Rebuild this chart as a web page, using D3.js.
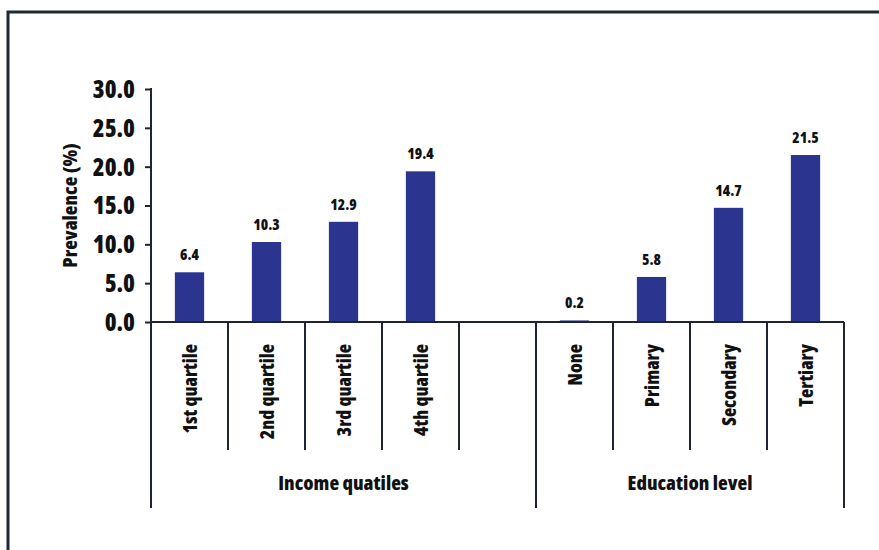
<!DOCTYPE html>
<html>
<head>
<meta charset="utf-8">
<script src="https://cdn.jsdelivr.net/npm/d3@7"></script>
<style>
  html, body { margin: 0; padding: 0; background: #ffffff; }
  svg { display: block; }
  text { font-family: "Open Sans", "Liberation Sans Narrow", sans-serif; font-stretch: 75%; font-weight: 800; fill: #111; }
</style>
</head>
<body>
<svg id="chart" width="879" height="550"></svg>
<script>
// Prevalence by income quartile and by education level
const incomeCategories = ["1st quartile", "2nd quartile", "3rd quartile", "4th quartile"];
const incomeValues = [6.4, 10.3, 12.9, 19.4];
const educationCategories = ["None", "Primary", "Secondary", "Tertiary"];
const educationValues = [0.2, 5.8, 14.7, 21.5];
const groupLabels = ["Income quatiles", "Education level"];
const yTicks = [0, 5, 10, 15, 20, 25, 30];
const yTitle = "Prevalence (%)";

const svg = d3.select("#chart");
const W = 879, H = 550;
const plotLeft = 151, plotRight = 844, plotTop = 89, plotBase = 322;
const sepShort = 450, sepLong = 508;
const barColor = "#2b3590";
const lineColor = "#1e2433";

// outer frame
svg.append("rect")
  .attr("x", 8).attr("y", 12)
  .attr("width", W + 20).attr("height", H + 20)
  .attr("fill", "none").attr("stroke", "#1d2a36").attr("stroke-width", 3);

// slot layout: income group gets one empty trailing slot
const slots = [];
incomeCategories.forEach((c, i) => slots.push({ key: "inc" + i, label: c, value: incomeValues[i], group: 0 }));
slots.push({ key: "gap", label: "", value: null, group: 0 });
educationCategories.forEach((c, i) => slots.push({ key: "edu" + i, label: c, value: educationValues[i], group: 1 }));

const x = d3.scaleBand().domain(slots.map(d => d.key)).range([plotLeft, plotRight]).padding(0);
const y = d3.scaleLinear().domain([0, 30]).range([plotBase, plotTop]);

// bars
const barW = x.bandwidth() * 0.38;
const data = slots.filter(d => d.value !== null);
svg.append("g").selectAll("rect").data(data).join("rect")
  .attr("x", d => x(d.key) + (x.bandwidth() - barW) / 2)
  .attr("y", d => y(d.value))
  .attr("width", barW)
  .attr("height", d => y(0) - y(d.value))
  .attr("fill", barColor);

// value labels
svg.append("g").selectAll("text").data(data).join("text")
  .attr("x", d => x(d.key) + x.bandwidth() / 2)
  .attr("y", d => y(d.value) - 12)
  .attr("text-anchor", "middle")
  .style("font-size", "15px")
  .text(d => d.value.toFixed(1));

// y axis
const yAxis = svg.append("g")
  .attr("transform", `translate(${plotLeft},0)`)
  .call(d3.axisLeft(y).tickValues(yTicks).tickFormat(d3.format(".1f")).tickSize(6).tickPadding(10));
yAxis.select(".domain").remove();
yAxis.selectAll(".tick line").attr("stroke", lineColor).attr("stroke-width", 2);
yAxis.selectAll(".tick text").style("font-size", "24px").style("font-family", null).attr("fill", "#111").attr("dy", "0.35em");

// vertical axis line runs down to the bottom of the group brackets
svg.append("line")
  .attr("x1", plotLeft).attr("x2", plotLeft).attr("y1", plotTop - 1).attr("y2", sepLong)
  .attr("stroke", lineColor).attr("stroke-width", 2);

// baseline
svg.append("line")
  .attr("x1", plotLeft).attr("x2", plotRight).attr("y1", plotBase).attr("y2", plotBase)
  .attr("stroke", lineColor).attr("stroke-width", 2);

// slot separators: long at group edges, short between categories
const bounds = slots.map((d, i) => ({ xPos: x(d.key), i })).concat([{ xPos: plotRight, i: slots.length }]);
const groupEdges = new Set([0, incomeCategories.length + 1, slots.length]);
svg.append("g").selectAll("line").data(bounds.filter(b => b.i > 0)).join("line")
  .attr("x1", b => b.xPos).attr("x2", b => b.xPos)
  .attr("y1", plotBase)
  .attr("y2", b => groupEdges.has(b.i) ? sepLong : sepShort)
  .attr("stroke", lineColor).attr("stroke-width", 2);

// category labels, rotated
svg.append("g").selectAll("text").data(slots.filter(d => d.label)).join("text")
  .attr("transform", d => `translate(${x(d.key) + x.bandwidth() / 2 + 7},344) rotate(-90)`)
  .attr("text-anchor", "end")
  .style("font-size", "19px")
  .text(d => d.label);

// group labels
const groupSpans = [[x("inc0"), x("edu0")], [x("edu0"), plotRight]];
svg.append("g").selectAll("text").data(groupLabels).join("text")
  .attr("x", (d, i) => (groupSpans[i][0] + groupSpans[i][1]) / 2)
  .attr("y", 490)
  .attr("text-anchor", "middle")
  .style("font-size", "20px")
  .text(d => d);

// y axis title
svg.append("text")
  .attr("transform", `translate(77,${(plotTop + plotBase) / 2}) rotate(-90)`)
  .attr("text-anchor", "middle")
  .style("font-size", "20px")
  .text(yTitle);
</script>
</body>
</html>
